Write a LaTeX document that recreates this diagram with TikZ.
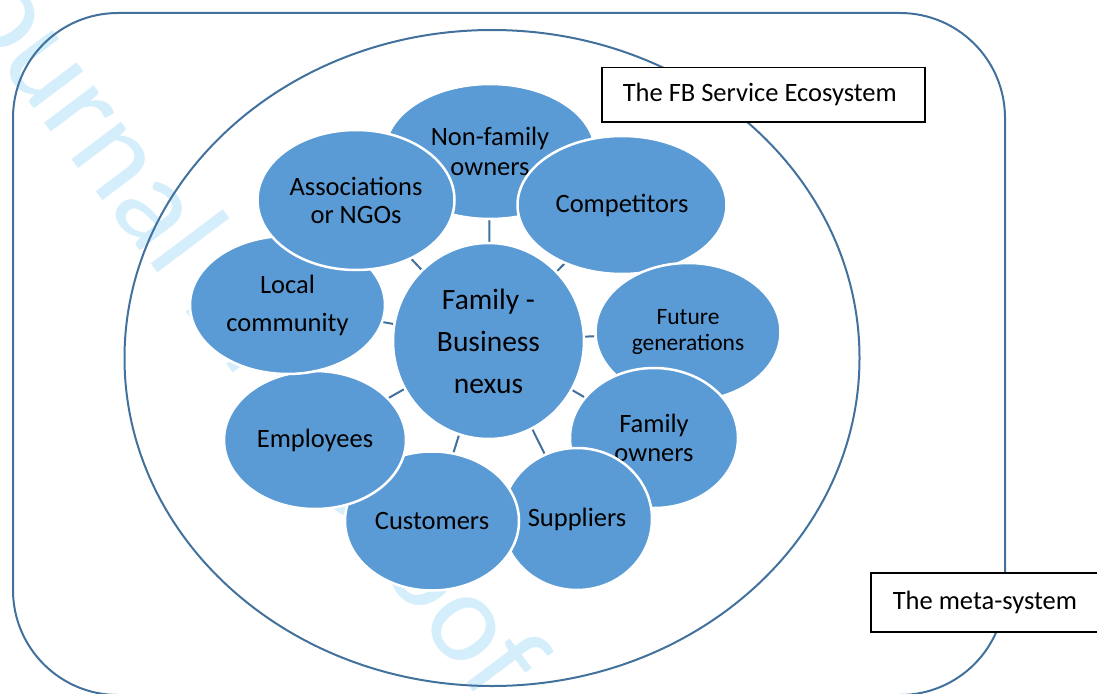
\documentclass[tikz,border=0pt]{standalone}
\usepackage{fontspec}
\setmainfont{Carlito}
\usetikzlibrary{shapes.geometric,backgrounds}
\definecolor{edgeblue}{RGB}{65,113,156}
\definecolor{bubblue}{RGB}{91,155,213}
\definecolor{wmblue}{RGB}{213,238,251}
\begin{document}
\begin{tikzpicture}[x=1pt,y=-1pt,
  bub/.style={ellipse, fill=bubblue, draw=white, line width=2.5pt, inner sep=0pt, align=center, text=black},
  tx/.style={font=\fontsize{26.5}{#1}\selectfont},
  tick/.style={draw=edgeblue, line width=2pt},
  frame/.style={draw=edgeblue, line width=2pt, fill=none},
  lbl/.style={draw=black, line width=1.5pt, fill=white, anchor=north west, inner ysep=0pt, font=\fontsize{26.5}{30}\selectfont}
]
\useasboundingbox (0,0) rectangle (1097,693);
\clip (0,0) rectangle (1097,693);

% bubbles, in stacking order
\node[bub, tx=30, minimum width=210, minimum height=135] (nonfam) at (490,151.5) {Non-family\\owners};
\node[bub, tx=30, minimum width=209, minimum height=138] (comp) at (622,205) {Competitors};
\node[bub, font=\fontsize{23.5}{26}\selectfont, minimum width=185, minimum height=138] (future) at (688,332) {Future\\generations};
\node[bub, tx=29, minimum width=168, minimum height=140] (famown) at (654,438) {Family\\owners};
\node[bub, tx=30, minimum width=150, minimum height=142] (supp) at (577,519) {Suppliers};
\node[bub, tx=30, minimum width=174, minimum height=139] (cust) at (432,521) {Customers};
\node[bub, tx=30, minimum width=182, minimum height=138] (empl) at (315,440) {Employees};
\node[bub, tx=38, minimum width=195, minimum height=138] (local) at (287.5,305) {Local\\community};
\node[bub, tx=28, minimum width=197, minimum height=140] (assoc) at (356,200) {Associations\\or NGOs};
\node[bub, font=\fontsize{29.5}{42}\selectfont, minimum width=191, minimum height=196] (ctr) at (488.5,341) {Family -\\Business\\nexus};

% label boxes
\node[lbl, inner xsep=21, minimum height=54] (fbbox) at (601,67) {\makebox[281pt][l]{The FB Service Ecosystem}};
\node[lbl, inner xsep=22, minimum height=59] (metabox) at (870,572) {\makebox[186pt][l]{The meta-system}};

\begin{pgfonlayer}{background}
  \node[font=\fontsize{130}{130}\selectfont, text=wmblue, rotate=-53, anchor=base west, inner sep=0pt] (wmark) at (-68,-26) {Journal Pre-proof};
  \node[frame, rectangle, rounded corners=105pt, minimum width=992, minimum height=682] (metasys) at (509,354) {};
  \node[frame, ellipse, inner sep=0pt, minimum width=735, minimum height=656] (eco) at (492,358) {};
  \foreach \n in {nonfam,comp,future,famown,supp,cust,empl,local,assoc}
    \draw[tick] (ctr) -- (\n);
\end{pgfonlayer}
\end{tikzpicture}
\end{document}
